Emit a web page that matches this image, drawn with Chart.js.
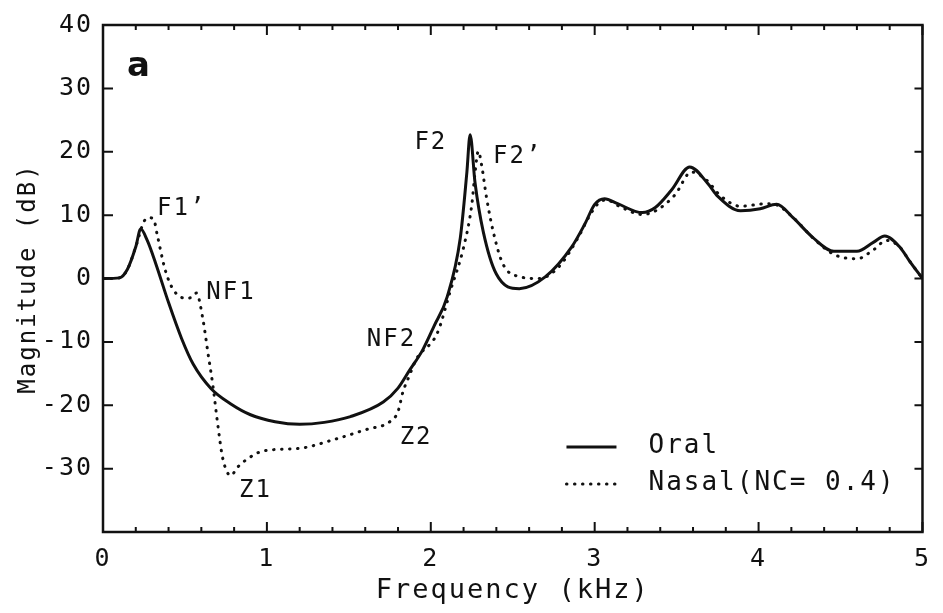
<!DOCTYPE html>
<html>
<head>
<meta charset="utf-8">
<script src="https://cdn.jsdelivr.net/npm/chart.js@4.4.1/dist/chart.umd.min.js"></script>
<style>
  html, body { margin: 0; padding: 0; background: #fff; }
  #wrap { width: 943px; height: 613px; }
</style>
</head>
<body>
<div id="wrap"><canvas id="spectrum"></canvas></div>
<script>
// valores (kHz, dB)
const oralFreq = [0, 0.1, 0.15, 0.2, 0.23, 0.27, 0.32, 0.4, 0.48, 0.55, 0.66, 0.78, 0.9, 1.05, 1.2, 1.35, 1.51,
  1.71, 1.8, 1.87, 1.95, 2.02, 2.1, 2.18, 2.22, 2.24, 2.27, 2.32, 2.4, 2.54, 2.7, 2.86, 2.94, 3.0, 3.06,
  3.14, 3.29, 3.37, 3.47, 3.58, 3.69, 3.75, 3.89, 4.01, 4.11, 4.21, 4.33, 4.46, 4.6, 4.7, 4.77, 4.86, 4.92, 5.0];
const oralDb = [0, 0.1, 1.5, 5, 7.8, 6, 2.5, -3.8, -9.5, -13.5, -17.4, -19.8, -21.5, -22.6, -23, -22.7, -21.8,
  -19.5, -17.3, -14.5, -11.3, -7.5, -2.9, 6.4, 16.7, 22.7, 15.1, 7.4, 0.7, -1.6, 0.3, 5, 8.6, 11.7, 12.6,
  11.8, 10.4, 11.2, 14, 17.6, 15, 13, 10.7, 11, 11.7, 9.6, 6.5, 4.3, 4.3, 5.7, 6.7, 5, 2.8, 0];

const nasalFreq = [0, 0.1, 0.15, 0.2, 0.25, 0.28, 0.31, 0.33, 0.38, 0.43, 0.5, 0.54, 0.57, 0.61, 0.64, 0.67,
  0.7, 0.73, 0.78, 0.82, 0.88, 0.98, 1.2, 1.41, 1.61, 1.75, 1.8, 1.83, 1.87, 1.91, 2.04, 2.12, 2.2, 2.25,
  2.27, 2.29, 2.31, 2.34, 2.38, 2.44, 2.54, 2.66, 2.78, 2.9, 2.96, 3.02, 3.07, 3.15, 3.29, 3.38, 3.49,
  3.59, 3.68, 3.77, 3.89, 4.05, 4.12, 4.22, 4.34, 4.46, 4.6, 4.7, 4.78, 4.86, 4.92, 5.0];
const nasalDb = [0, 0.1, 1.5, 5, 9, 9.6, 9.3, 7, 1.3, -1.8, -3.1, -3.0, -2.3, -6.5, -11.7, -16.8,
  -23, -28.3, -31.1, -29.8, -28.5, -27.2, -26.8, -25.4, -23.8, -22.6, -21, -17.9, -15.3, -12.8, -8.6, -1.9, 4.9, 11.6,
  16.7, 20.1, 17.9, 12.8, 7.5, 2.3, 0.3, 0, 1.8, 6.5, 9.5, 11.8, 12.4, 11.4, 10.1, 10.8, 13.2,
  16.8, 15.6, 13, 11.4, 11.8, 11.5, 9.4, 6.2, 3.8, 3.1, 4.5, 6, 5, 2.8, 0];

const xTickLabels = [0, 1, 2, 3, 4, 5];
const yTickLabels = [-30, -20, -10, 0, 10, 20, 30, 40];

const seriesNames = ['Oral', 'Nasal(NC= 0.4)'];

// etiquetas dentro del grafico
const notes = ['F1’', 'NF1', 'Z1', 'NF2', 'Z2', 'F2', 'F2’'];
const noteFreq = [0.33, 0.63, 0.83, 1.61, 1.81, 1.90, 2.38];
const noteDb = [11, -2.3, -33.5, -9.7, -25.2, 21.4, 19.2];

const FONT = '"DejaVu Sans Mono", monospace';
const INK = '#111';

function toPoints(xs, ys) {
  return xs.map((x, i) => ({ x: x, y: ys[i] }));
}

const spacing = {
  id: 'spacing',
  beforeLayout(chart) { chart.ctx.letterSpacing = '2px'; },
  beforeDraw(chart) { chart.ctx.letterSpacing = '2px'; }
};

// marco con marcas hacia dentro, leyenda y anotaciones
const frame = {
  id: 'frame',
  afterDatasetsDraw(chart) {
    const ctx = chart.ctx;
    const a = chart.chartArea;
    const xs = chart.scales.x;
    const ys = chart.scales.y;
    ctx.save();
    ctx.strokeStyle = INK;
    ctx.lineWidth = 2.5;
    ctx.strokeRect(a.left, a.top, a.right - a.left, a.bottom - a.top);

    ctx.lineWidth = 2;
    ctx.beginPath();
    for (let i = 0; i <= 25; i++) {
      const v = i / 5;
      const px = xs.getPixelForValue(v);
      const len = (i % 5 === 0) ? 10 : 5;
      ctx.moveTo(px, a.bottom); ctx.lineTo(px, a.bottom - len);
      ctx.moveTo(px, a.top); ctx.lineTo(px, a.top + len);
    }
    yTickLabels.forEach(v => {
      const py = ys.getPixelForValue(v);
      ctx.moveTo(a.left, py); ctx.lineTo(a.left + 10, py);
      ctx.moveTo(a.right, py); ctx.lineTo(a.right - 8, py);
    });
    ctx.stroke();

    // anotaciones
    ctx.fillStyle = INK;
    ctx.textBaseline = 'middle';
    ctx.textAlign = 'left';
    ctx.letterSpacing = '2px';
    ctx.font = '24px ' + FONT;
    notes.forEach((t, i) => {
      ctx.fillText(t, xs.getPixelForValue(noteFreq[i]), ys.getPixelForValue(noteDb[i]));
    });
    ctx.font = 'bold 34px "DejaVu Sans", sans-serif';
    ctx.letterSpacing = '0px';
    ctx.fillText('a', a.left + 24, a.top + 42);

    // leyenda
    const lx = a.right - 356;
    const ly = a.bottom - 85;
    chart.data.datasets.forEach((ds, i) => {
      const y = ly + i * 37;
      ctx.save();
      ctx.strokeStyle = INK;
      ctx.lineWidth = ds.borderWidth;
      ctx.lineCap = ds.borderCapStyle || 'butt';
      ctx.setLineDash(ds.borderDash || []);
      ctx.beginPath();
      ctx.moveTo(lx, y);
      ctx.lineTo(lx + 50, y);
      ctx.stroke();
      ctx.restore();
      ctx.font = '26px ' + FONT;
      ctx.letterSpacing = '2px';
      ctx.fillText(ds.label, lx + 82, y - 1);
    });
    ctx.restore();
  }
};

new Chart(document.getElementById('spectrum'), {
  type: 'line',
  data: {
    datasets: [{
      label: seriesNames[0],
      data: toPoints(oralFreq, oralDb),
      borderColor: INK,
      borderWidth: 3,
      pointRadius: 0,
      cubicInterpolationMode: 'monotone'
    }, {
      label: seriesNames[1],
      data: toPoints(nasalFreq, nasalDb),
      borderColor: INK,
      borderWidth: 3,
      borderDash: [0.5, 7.5],
      borderCapStyle: 'round',
      pointRadius: 0,
      cubicInterpolationMode: 'monotone'
    }]
  },
  options: {
    responsive: true,
    maintainAspectRatio: false,
    animation: false,
    layout: { padding: { left: 0, right: 13, top: 17, bottom: 0 } },
    plugins: {
      legend: { display: false },
      tooltip: { enabled: false }
    },
    scales: {
      x: {
        type: 'linear',
        min: 0,
        max: 5,
        grid: { display: false, drawTicks: false, tickLength: 0 },
        border: { display: false },
        afterBuildTicks(scale) {
          scale.ticks = xTickLabels.map(v => ({ value: v }));
        },
        afterFit(scale) { scale.height = 81; },
        ticks: {
          color: INK,
          padding: 12,
          autoSkip: false,
          maxRotation: 0,
          font: { family: FONT, size: 25 },
          callback: v => String(v)
        },
        title: {
          display: true,
          text: 'Frequency (kHz)',
          color: INK,
          font: { family: FONT, size: 27 },
          padding: { top: 0, bottom: 6 }
        }
      },
      y: {
        min: -40,
        max: 40,
        grid: { display: false, drawTicks: false, tickLength: 0 },
        border: { display: false },
        afterBuildTicks(scale) {
          scale.ticks = yTickLabels.map(v => ({ value: v }));
        },
        afterFit(scale) { scale.width = 103; },
        ticks: {
          color: INK,
          padding: 10,
          font: { family: FONT, size: 25 },
          callback: v => String(v)
        },
        title: {
          display: true,
          text: 'Magnitude (dB)',
          color: INK,
          font: { family: FONT, size: 24 },
          padding: { top: 14, bottom: 0 }
        }
      }
    }
  },
  plugins: [spacing, frame]
});
</script>
</body>
</html>
